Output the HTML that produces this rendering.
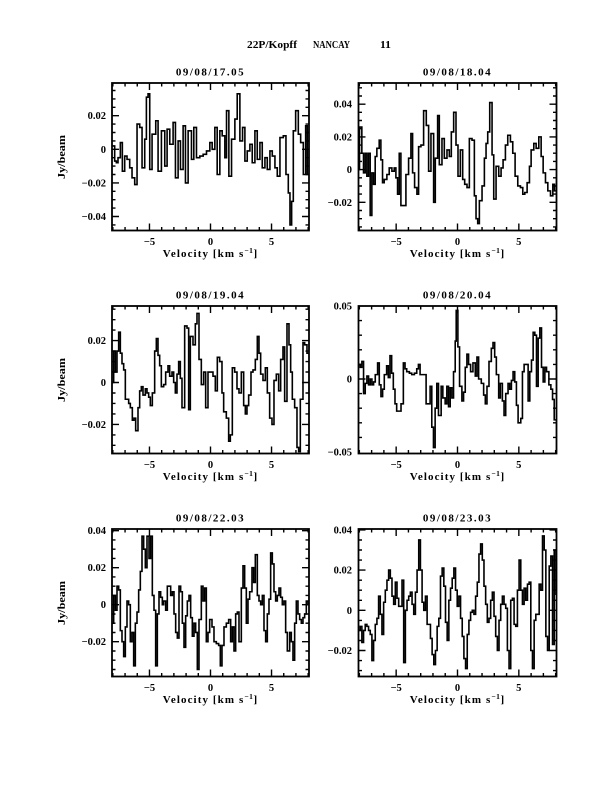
<!DOCTYPE html>
<html><head><meta charset="utf-8"><style>
html,body{margin:0;padding:0;background:#fff;}
svg{display:block;}
text{font-family:"Liberation Serif","DejaVu Serif",serif;font-weight:bold;font-size:10.5px;fill:#000;}
.f{fill:none;stroke:#000;stroke-width:1.8;}
.t{fill:none;stroke:#000;stroke-width:1.4;}
.d{fill:none;stroke:#000;stroke-width:1.6;stroke-linejoin:miter;}
.yl{text-anchor:end;}
.xl{text-anchor:middle;}
.vl{text-anchor:middle;font-size:11px;letter-spacing:1.1px;}
.pt{text-anchor:middle;font-size:11px;letter-spacing:1.5px;}
</style></head><body>
<svg width="612" height="792" viewBox="0 0 612 792" xmlns="http://www.w3.org/2000/svg">
<rect width="612" height="792" fill="#fff"/>
<defs>
<clipPath id="c1"><rect x="112" y="83" width="197" height="147.5"/></clipPath>
<clipPath id="c2"><rect x="358.5" y="83" width="198" height="147.5"/></clipPath>
<clipPath id="c3"><rect x="112" y="306" width="197" height="147.5"/></clipPath>
<clipPath id="c4"><rect x="358.5" y="306" width="198" height="147.5"/></clipPath>
<clipPath id="c5"><rect x="112" y="529" width="197" height="147.5"/></clipPath>
<clipPath id="c6"><rect x="358.5" y="529" width="198" height="147.5"/></clipPath>
<path id="xl" d="M0.85 147.5v-3.5M13.06 147.5v-3.5M25.26 147.5v-3.5M37.47 147.5v-7M49.68 147.5v-3.5M61.88 147.5v-3.5M74.09 147.5v-3.5M86.29 147.5v-3.5M98.5 147.5v-7M110.71 147.5v-3.5M122.91 147.5v-3.5M135.12 147.5v-3.5M147.32 147.5v-3.5M159.53 147.5v-7M171.74 147.5v-3.5M183.94 147.5v-3.5M196.15 147.5v-3.5M0.85 0v3.5M13.06 0v3.5M25.26 0v3.5M37.47 0v7M49.68 0v3.5M61.88 0v3.5M74.09 0v3.5M86.29 0v3.5M98.5 0v7M110.71 0v3.5M122.91 0v3.5M135.12 0v3.5M147.32 0v3.5M159.53 0v7M171.74 0v3.5M183.94 0v3.5M196.15 0v3.5"/>
<path id="xr" d="M0.86 147.5v-3.5M13.12 147.5v-3.5M25.39 147.5v-3.5M37.66 147.5v-7M49.93 147.5v-3.5M62.2 147.5v-3.5M74.46 147.5v-3.5M86.73 147.5v-3.5M99 147.5v-7M111.27 147.5v-3.5M123.54 147.5v-3.5M135.8 147.5v-3.5M148.07 147.5v-3.5M160.34 147.5v-7M172.61 147.5v-3.5M184.88 147.5v-3.5M197.14 147.5v-3.5M0.86 0v3.5M13.12 0v3.5M25.39 0v3.5M37.66 0v7M49.93 0v3.5M62.2 0v3.5M74.46 0v3.5M86.73 0v3.5M99 0v7M111.27 0v3.5M123.54 0v3.5M135.8 0v3.5M148.07 0v3.5M160.34 0v7M172.61 0v3.5M184.88 0v3.5M197.14 0v3.5"/>
</defs>

<!-- main title -->
<text x="247" y="48" textLength="50" lengthAdjust="spacingAndGlyphs" style="font-size:11px">22P/Kopff</text>
<text x="313" y="48" textLength="37" lengthAdjust="spacingAndGlyphs" style="font-size:11px">NANCAY</text>
<text x="380" y="48" textLength="11" lengthAdjust="spacingAndGlyphs" style="font-size:11px">11</text>

<!-- ============ PANEL 1 ============ -->
<g clip-path="url(#c1)">
<path class="d" vector-effect="non-scaling-stroke" transform="matrix(0.3339 0 0 -1.68 49.56 149.3)" d="M187 2H195V-7H200V-8H205V-5H212V4H218V-13H225V-4H232V-6H240V-11H247V-17H255V-21H262V15H270V13H277V-11H285V6H290V31H295V33H300V-12H307V9H318V17H325V-13H335V11H345V-10H352V12H360V3H370V16H377V-17H385V5H392V-12H400V14H407V-20H415V11H425V-6H432V13H440V-5H450V-4H460V-3H470V-1H480V4H487V0H495V13H502V-15H510V11H517V8H525V-5H530V23H537V-16H545V6H555V18H562V33H570V5H578V13H585V-7H592V-1H600V3H607V-8H615V11H622V-6H630V4H637V-11H645V-5H652V-12H660V-1H667V-4H675V-11H682V-16H690V7H700V8H708V-15H715V-26H720V-45H725V-31H730V11H737V23H745V9H752V4H760V-15H767V14H772V-15H777"/>
</g>
<g transform="translate(112,83)">
<use href="#xl" class="t"/>
<path class="t" d="M0 7.5h3.5M0 15.9h3.5M0 24.3h3.5M0 32.7h7M0 41.1h3.5M0 49.5h3.5M0 57.9h3.5M0 66.3h7M0 74.7h3.5M0 83.1h3.5M0 91.5h3.5M0 99.9h7M0 108.3h3.5M0 116.7h3.5M0 125.1h3.5M0 133.5h7M0 141.9h3.5M197 7.5h-3.5M197 15.9h-3.5M197 24.3h-3.5M197 32.7h-7M197 41.1h-3.5M197 49.5h-3.5M197 57.9h-3.5M197 66.3h-7M197 74.7h-3.5M197 83.1h-3.5M197 91.5h-3.5M197 99.9h-7M197 108.3h-3.5M197 116.7h-3.5M197 125.1h-3.5M197 133.5h-7M197 141.9h-3.5"/>
<rect class="f" x="0" y="0" width="197" height="147.5"/>
</g>
<text class="pt" x="210.5" y="75.5">09/08/17.05</text>
<text class="yl" x="106" y="119.2">0.02</text>
<text class="yl" x="106" y="152.8">0</text>
<text class="yl" x="106" y="186.4">−0.02</text>
<text class="yl" x="106" y="220">−0.04</text>
<text class="xl" x="149.5" y="245">−5</text>
<text class="xl" x="210.5" y="245">0</text>
<text class="xl" x="271.5" y="245">5</text>
<text class="vl" x="210.5" y="257">Velocity [km s<tspan dy="-4" style="font-size:7.5px;letter-spacing:0.5px">−1</tspan><tspan dy="4">]</tspan></text>
<text transform="translate(65,157) rotate(-90)" text-anchor="middle" textLength="44" lengthAdjust="spacingAndGlyphs">Jy/beam</text>

<!-- ============ PANEL 2 ============ -->
<g clip-path="url(#c2)">
<path class="d" vector-effect="non-scaling-stroke" transform="matrix(0.3339 0 0 -1.636 320.1 169.6)" d="M115 0H118V26H125V10H130V-2H135V10H140V-4H145V10H150V-28H155V-2H160V-9H165V8H170V13H177V18H182V6H187V-8H192V-6H200V-3H207V1H215V-1H222V1H227V-5H232V-15H237V10H242V-22H257V-3H265V7H272V22H277V-2H283V-11H290V-15H295V14H302V15H310V36H318V27H325V-1H332V22H340V-20H345V7H352V33H357V3H365V19H372V7H380V12H387V8H393V23H400V35H407V15H413V-4H420V12H427V-6H433V-9H440V-11H447V19H455V18H462V-16H467V-30H472V-33H477V-19H485V-10H492V7H497V16H502V23H508V41H515V9H520V-18H527V2H535V-4H542V1H548V6H555V15H562V21H570V17H577V10H584V-4H592V-10H600V-11H607V-15H613V-14H620V-8H627V2H632V12H640V16H647V13H655V20H662V8H668V-2H675V-8H682V-13H690V-16H697V-9H702V-13H708"/>
</g>
<g transform="translate(358.5,83)">
<use href="#xr" class="t"/>
<path class="t" d="M0 4.8h3.5M0 13h3.5M0 21.2h7M0 29.3h3.5M0 37.5h3.5M0 45.7h3.5M0 53.9h7M0 62.1h3.5M0 70.2h3.5M0 78.4h3.5M0 86.6h7M0 94.8h3.5M0 103h3.5M0 111.1h3.5M0 119.3h7M0 127.5h3.5M0 135.7h3.5M0 143.9h3.5M198 4.8h-3.5M198 13h-3.5M198 21.2h-7M198 29.3h-3.5M198 37.5h-3.5M198 45.7h-3.5M198 53.9h-7M198 62.1h-3.5M198 70.2h-3.5M198 78.4h-3.5M198 86.6h-7M198 94.8h-3.5M198 103h-3.5M198 111.1h-3.5M198 119.3h-7M198 127.5h-3.5M198 135.7h-3.5M198 143.9h-3.5"/>
<rect class="f" x="0" y="0" width="198" height="147.5"/>
</g>
<text class="pt" x="457.5" y="75.5">09/08/18.04</text>
<text class="yl" x="352" y="107.7">0.04</text>
<text class="yl" x="352" y="140.4">0.02</text>
<text class="yl" x="352" y="173.1">0</text>
<text class="yl" x="352" y="205.8">−0.02</text>
<text class="xl" x="396.2" y="245">−5</text>
<text class="xl" x="457.5" y="245">0</text>
<text class="xl" x="518.8" y="245">5</text>
<text class="vl" x="457.5" y="257">Velocity [km s<tspan dy="-4" style="font-size:7.5px;letter-spacing:0.5px">−1</tspan><tspan dy="4">]</tspan></text>

<!-- ============ PANEL 3 ============ -->
<g clip-path="url(#c3)">
<path class="d" vector-effect="non-scaling-stroke" transform="matrix(0.3333 0 0 -2.095 89.67 382.5)" d="M67 0H72V15H77V5H82V15H87V24H92V14H97V9H102V6H107V-8H117V-10H122V-12H128V-18H133V-17H138V-23H145V-12H150V-4H155V-2H160V-6H167V-3H172V-5H177V-7H182V-11H188V-5H195V15H200V21H205V13H210V8H215V-2H222V-1H228V5H235V8H240V3H247V5H252V0H257V-5H262V4H267V10H272V2H277V-12H285V27H292V26H297V-13H302V22H310V18H317V28H322V33H328V11H335V-1H342V5H348V-12H355V5H370V3H377V-4H383V12H390V10H397V-5H402V-14H410V-17H417V-28H422V-25H428V7H435V5H442V-3H448V-5H455V5H462V-11H467V-15H472V-11H477V-6H484V5H490V6H497V11H503V22H508V14H513V4H520V1H527V7H533V-5H540V-17H547V-20H553V1H560V4H567V-4H573V11H580V17H585V-9H592V28H598V18H603V5H608V-8H615V-12H622V-31H627V-33H632V-8H640V19H645V18H652V14H658"/>
</g>
<g transform="translate(112,306)">
<use href="#xl" class="t"/>
<path class="t" d="M0 3.2h3.5M0 13.65h3.5M0 24.1h3.5M0 34.6h7M0 45.1h3.5M0 55.55h3.5M0 66h3.5M0 76.5h7M0 87h3.5M0 97.45h3.5M0 107.9h3.5M0 118.4h7M0 128.9h3.5M0 139.35h3.5M197 3.2h-3.5M197 13.65h-3.5M197 24.1h-3.5M197 34.6h-7M197 45.1h-3.5M197 55.55h-3.5M197 66h-3.5M197 76.5h-7M197 87h-3.5M197 97.45h-3.5M197 107.9h-3.5M197 118.4h-7M197 128.9h-3.5M197 139.35h-3.5"/>
<rect class="f" x="0" y="0" width="197" height="147.5"/>
</g>
<text class="pt" x="210.5" y="298.5">09/08/19.04</text>
<text class="yl" x="106" y="344.1">0.02</text>
<text class="yl" x="106" y="386">0</text>
<text class="yl" x="106" y="427.9">−0.02</text>
<text class="xl" x="149.5" y="468">−5</text>
<text class="xl" x="210.5" y="468">0</text>
<text class="xl" x="271.5" y="468">5</text>
<text class="vl" x="210.5" y="480">Velocity [km s<tspan dy="-4" style="font-size:7.5px;letter-spacing:0.5px">−1</tspan><tspan dy="4">]</tspan></text>
<text transform="translate(65,380) rotate(-90)" text-anchor="middle" textLength="44" lengthAdjust="spacingAndGlyphs">Jy/beam</text>

<!-- ============ PANEL 4 ============ -->
<g clip-path="url(#c4)">
<path class="d" vector-effect="non-scaling-stroke" transform="matrix(0.3345 0 0 -1.46 329.1 379)" d="M88 10H93V8H98V12H103V-10H108V-3H113V2H118V-4H123V0H128V-4H133V-2H138V3H145V11H150V-4H155V-12H160V-7H165V3H172V9H177V1H182V16H187V4H192V-7H197V-17H202V-22H215V-17H222V11H227V7H232V5H240V4H247V3H255V4H262V7H267V10H272V3H290V-17H302V-5H307V-33H312V-47H317V-20H322V-3H327V-25H335V-5H340V-13H347V-17H352V-5H357V-19H362V-6H367V-13H372V5H377V26H380V47H385V22H390V-5H397V-15H402V-9H407V8H412V17H417V10H423V5H430V11H437V2H442V15H447V0H455V-3H462V-11H467V-17H472V-5H478V12H485V21H490V25H495V15H500V3H507V-13H512V-3H518V-15H523V-25H528V-10H535V-3H540V-7H545V-1H550V5H555V-2H560V-18H565V-30H573V-27H578V5H583V10H595V-15H600V5H605V13H610V32H615V30H620V-5H625V28H630V35H635V8H640V-2H645V8H650V5H657V-4H663V-7H668V-14H673V-28H680"/>
</g>
<g transform="translate(358.5,306)">
<use href="#xr" class="t"/>
<path class="t" d="M0 14.6h3.5M0 29.2h3.5M0 43.8h3.5M0 58.4h3.5M0 73h7M0 87.6h3.5M0 102.2h3.5M0 116.8h3.5M0 131.4h3.5M198 14.6h-3.5M198 29.2h-3.5M198 43.8h-3.5M198 58.4h-3.5M198 73h-7M198 87.6h-3.5M198 102.2h-3.5M198 116.8h-3.5M198 131.4h-3.5"/>
<rect class="f" x="0" y="0" width="198" height="147.5"/>
</g>
<text class="pt" x="457.5" y="298.5">09/08/20.04</text>
<text class="yl" x="352" y="309.5">0.05</text>
<text class="yl" x="352" y="382.5">0</text>
<text class="yl" x="352" y="455.5">−0.05</text>
<text class="xl" x="396.2" y="468">−5</text>
<text class="xl" x="457.5" y="468">0</text>
<text class="xl" x="518.8" y="468">5</text>
<text class="vl" x="457.5" y="480">Velocity [km s<tspan dy="-4" style="font-size:7.5px;letter-spacing:0.5px">−1</tspan><tspan dy="4">]</tspan></text>

<!-- ============ PANEL 5 ============ -->
<g clip-path="url(#c5)">
<path class="d" vector-effect="non-scaling-stroke" transform="matrix(0.3333 0 0 -1.851 89.67 604.7)" d="M67 -10H72V5H77V-3H82V10H87V8H92V-14H97V-20H102V-28H107V-12H112V2H117V0H122V-20H127V-15H132V-33H137V-10H142V-4H147V8H152V18H157V37H162V30H167V20H172V37H178V25H183V37H188V5H193V-3H198V-33H203V-5H208V7H213V4H218V0H222V2H228V-3H233V10H243V5H248V7H253V-5H258V-15H263V-18H268V10H273V7H278V-10H283V-23H288V-6H293V2H298V5H303V-7H308V-17H313V-10H318V-15H323V-35H328V-8H335V10H340V2H345V9H350V-20H355V-15H360V-8H367V-12H373V-20H380V-21H387V-22H392V-33H397V-22H403V-12H410V-10H417V-8H423V-20H428V-12H433V-25H438V-5H443V-4H448V-20H455V9H460V21H465V9H470V-10H475V3H480V7H487V20H492V12H497V27H503V5H508V2H513V0H518V5H523V-14H528V-20H533V-5H538V3H543V28H548V22H553V7H558V2H563V5H568V9H573V4H578V0H583V2H588V-15H593V-25H600V-15H605V-20H610V-30H615V-10H620V2H625V-5H630V-8H635V-10H640V-7H645V-5H650V2H655V0H658"/>
</g>
<g transform="translate(112,529)">
<use href="#xl" class="t"/>
<path class="t" d="M0 1.7h7M0 10.9h3.5M0 20.2h3.5M0 29.4h3.5M0 38.7h7M0 47.9h3.5M0 57.2h3.5M0 66.4h3.5M0 75.7h7M0 85h3.5M0 94.2h3.5M0 103.5h3.5M0 112.7h7M0 122h3.5M0 131.2h3.5M0 140.5h3.5M197 1.7h-7M197 10.9h-3.5M197 20.2h-3.5M197 29.4h-3.5M197 38.7h-7M197 47.9h-3.5M197 57.2h-3.5M197 66.4h-3.5M197 75.7h-7M197 85h-3.5M197 94.2h-3.5M197 103.5h-3.5M197 112.7h-7M197 122h-3.5M197 131.2h-3.5M197 140.5h-3.5"/>
<rect class="f" x="0" y="0" width="197" height="147.5"/>
</g>
<text class="pt" x="210.5" y="521.5">09/08/22.03</text>
<text class="yl" x="106" y="534.2">0.04</text>
<text class="yl" x="106" y="571.2">0.02</text>
<text class="yl" x="106" y="608.2">0</text>
<text class="yl" x="106" y="645.2">−0.02</text>
<text class="xl" x="149.5" y="691">−5</text>
<text class="xl" x="210.5" y="691">0</text>
<text class="xl" x="271.5" y="691">5</text>
<text class="vl" x="210.5" y="703">Velocity [km s<tspan dy="-4" style="font-size:7.5px;letter-spacing:0.5px">−1</tspan><tspan dy="4">]</tspan></text>
<text transform="translate(65,603) rotate(-90)" text-anchor="middle" textLength="44" lengthAdjust="spacingAndGlyphs">Jy/beam</text>

<!-- ============ PANEL 6 ============ -->
<g clip-path="url(#c6)">
<path class="d" vector-effect="non-scaling-stroke" transform="matrix(0.3345 0 0 -2.01 329.1 610.3)" d="M88 -10H93V-8H98V-16H103V-10H108V-7H113V-8H118V-10H123V-12H128V-25H133V-15H138V-7H143V-4H148V7H153V-2H158V-12H163V4H168V10H173V15H178V20H183V16H188V7H193V3H198V14H203V6H208V2H218V15H223V-26H228V0H233V5H238V7H243V9H248V3H253V-2H258V9H263V20H268V35H273V20H278V4H283V0H288V7H293V-7H303V-14H308V-22H313V-27H318V-20H323V-8H328V-4H333V17H338V21H343V12H348V-6H353V-15H358V5H363V11H368V16H373V21H378V10H383V2H388V7H393V-4H398V-13H403V-24H408V-29H413V-12H418V-5H423V-1H428V0H433V-2H438V7H443V14H448V28H453V33H458V25H463V12H468V3H473V-6H478V-4H483V5H488V9H493V-3H498V-13H503V-20H508V-5H513V3H518V7H523V3H528V1H533V-20H538V-29H543V5H548V6H553V-7H558V-8H563V10H568V25H573V10H578V3H583V11H588V5H593V13H598V14H603V-20H608V-29H613V-5H618V-2H628V13H633V10H638V37H643V30H648V-13H653V-20H658V22H663V27H668V-17H673V30H678V8H680"/>
</g>
<g transform="translate(358.5,529)">
<use href="#xr" class="t"/>
<path class="t" d="M0 0.9h7M0 11h3.5M0 21h3.5M0 31.1h3.5M0 41.1h7M0 51.2h3.5M0 61.2h3.5M0 71.3h3.5M0 81.3h7M0 91.4h3.5M0 101.4h3.5M0 111.5h3.5M0 121.5h7M0 131.6h3.5M0 141.6h3.5M198 0.9h-7M198 11h-3.5M198 21h-3.5M198 31.1h-3.5M198 41.1h-7M198 51.2h-3.5M198 61.2h-3.5M198 71.3h-3.5M198 81.3h-7M198 91.4h-3.5M198 101.4h-3.5M198 111.5h-3.5M198 121.5h-7M198 131.6h-3.5M198 141.6h-3.5"/>
<rect class="f" x="0" y="0" width="198" height="147.5"/>
</g>
<text class="pt" x="457.5" y="521.5">09/08/23.03</text>
<text class="yl" x="352" y="533.4">0.04</text>
<text class="yl" x="352" y="573.6">0.02</text>
<text class="yl" x="352" y="613.8">0</text>
<text class="yl" x="352" y="654">−0.02</text>
<text class="xl" x="396.2" y="691">−5</text>
<text class="xl" x="457.5" y="691">0</text>
<text class="xl" x="518.8" y="691">5</text>
<text class="vl" x="457.5" y="703">Velocity [km s<tspan dy="-4" style="font-size:7.5px;letter-spacing:0.5px">−1</tspan><tspan dy="4">]</tspan></text>
</svg>
</body></html>
